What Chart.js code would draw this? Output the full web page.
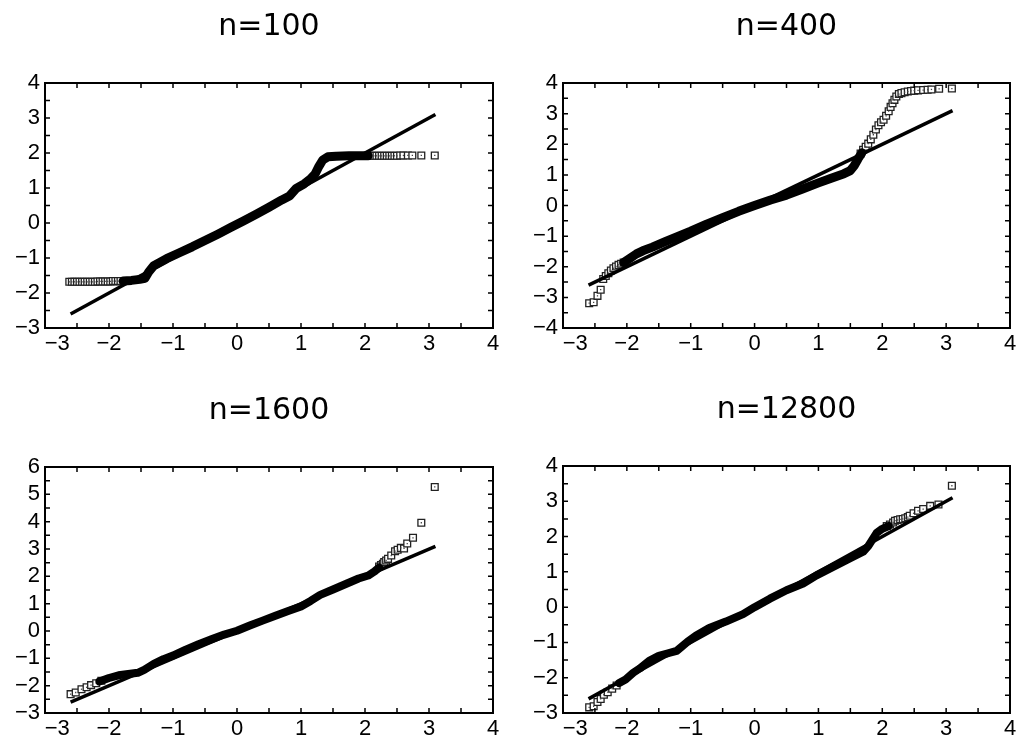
<!DOCTYPE html>
<html>
<head>
<meta charset="utf-8">
<script src="https://cdn.jsdelivr.net/npm/chart.js@4.4.1/dist/chart.umd.min.js"></script>
<style>
    html, body { margin: 0; padding: 0; background: #fff; }
    #wrap { position: relative; width: 1020px; height: 746px; }
    .cell { position: absolute; width: 510px; height: 373px; }
</style>
</head>
<body>
<div id="wrap">
    <div class="cell" style="left:0;top:0"><canvas id="c1" width="510" height="373"></canvas></div>
    <div class="cell" style="left:510px;top:0"><canvas id="c2" width="510" height="373"></canvas></div>
    <div class="cell" style="left:0;top:373px"><canvas id="c3" width="510" height="373"></canvas></div>
    <div class="cell" style="left:510px;top:373px"><canvas id="c4" width="510" height="373"></canvas></div>
</div>
<script>
// reference line y = x
const refX = [-2.6, 3.1];
const refY = [-2.6, 3.1];

// n=100
const n100BandX = [-1.78, -1.65, -1.52, -1.44, -1.38, -1.30, -1.10, -0.90, -0.70, -0.50, -0.30, -0.10, 0.10, 0.30, 0.50, 0.70, 0.82, 0.92, 1.05, 1.15, 1.22, 1.28, 1.34, 1.42, 1.55, 1.75, 1.95, 2.05];
const n100BandY = [-1.66, -1.64, -1.61, -1.58, -1.40, -1.22, -1.02, -0.85, -0.68, -0.50, -0.32, -0.13, 0.06, 0.25, 0.45, 0.66, 0.77, 0.98, 1.12, 1.26, 1.40, 1.62, 1.80, 1.89, 1.91, 1.92, 1.92, 1.92];
const n100MarkX = [-2.62, -2.58, -2.54, -2.50, -2.46, -2.42, -2.38, -2.34, -2.30, -2.26, -2.22, -2.18, -2.14, -2.10, -2.06, -2.02, -1.98, -1.94, -1.90, -1.86, -1.82,
    2.06, 2.10, 2.14, 2.18, 2.22, 2.26, 2.30, 2.34, 2.38, 2.42, 2.46, 2.50, 2.55, 2.60, 2.67, 2.74, 2.88, 3.09];
const n100MarkY = [-1.68, -1.68, -1.68, -1.68, -1.68, -1.68, -1.68, -1.68, -1.68, -1.68, -1.68, -1.67, -1.67, -1.67, -1.67, -1.67, -1.67, -1.66, -1.66, -1.66, -1.66,
    1.92, 1.92, 1.92, 1.92, 1.92, 1.92, 1.92, 1.92, 1.92, 1.92, 1.92, 1.92, 1.93, 1.93, 1.93, 1.93, 1.93, 1.93];

// n=400
const n400BandX = [-2.05, -1.95, -1.85, -1.75, -1.60, -1.40, -1.20, -1.00, -0.75, -0.50, -0.25, 0.00, 0.25, 0.50, 0.75, 1.00, 1.20, 1.40, 1.50, 1.56, 1.62, 1.68];
const n400BandY = [-1.86, -1.72, -1.58, -1.48, -1.36, -1.18, -1.01, -0.84, -0.61, -0.40, -0.19, 0.00, 0.18, 0.34, 0.54, 0.74, 0.89, 1.04, 1.14, 1.30, 1.52, 1.72];
const n400MarkX = [-2.59, -2.52, -2.46, -2.41, -2.37, -2.33, -2.29, -2.25, -2.21, -2.17, -2.13, -2.09, -2.05,
    1.66, 1.70, 1.74, 1.78, 1.82, 1.86, 1.90, 1.94, 1.98, 2.02, 2.06, 2.10, 2.13, 2.16, 2.19, 2.22, 2.26, 2.30, 2.35, 2.40, 2.45, 2.50, 2.56, 2.64, 2.71, 2.77, 2.89, 3.09];
const n400MarkY = [-3.19, -3.16, -2.95, -2.75, -2.40, -2.30, -2.21, -2.12, -2.05, -1.99, -1.94, -1.90, -1.86,
    1.70, 1.82, 1.92, 2.02, 2.16, 2.31, 2.48, 2.62, 2.72, 2.80, 2.93, 3.08, 3.22, 3.34, 3.45, 3.56, 3.64, 3.67, 3.70, 3.72, 3.74, 3.75, 3.76, 3.77, 3.78, 3.79, 3.81, 3.82];

// n=1600
const n1600BandX = [-2.15, -2.00, -1.85, -1.70, -1.55, -1.45, -1.30, -1.15, -1.00, -0.80, -0.60, -0.40, -0.20, 0.00, 0.20, 0.40, 0.60, 0.80, 1.00, 1.15, 1.30, 1.50, 1.70, 1.90, 2.05, 2.15, 2.22];
const n1600BandY = [-1.85, -1.72, -1.62, -1.57, -1.53, -1.42, -1.20, -1.03, -0.90, -0.68, -0.48, -0.30, -0.13, 0.01, 0.20, 0.38, 0.56, 0.73, 0.90, 1.10, 1.32, 1.52, 1.72, 1.92, 2.03, 2.18, 2.32];
const n1600MarkX = [-2.60, -2.52, -2.43, -2.35, -2.28, -2.20, -2.12,
    2.22, 2.25, 2.28, 2.30, 2.33, 2.36, 2.41, 2.47, 2.51, 2.56, 2.61, 2.66, 2.75, 2.88, 3.09];
const n1600MarkY = [-2.31, -2.25, -2.13, -2.06, -1.98, -1.91, -1.82,
    2.36, 2.41, 2.46, 2.52, 2.58, 2.64, 2.76, 2.92, 2.97, 3.04, 3.02, 3.20, 3.41, 3.96, 5.27];

// n=12800
const n12800BandX = [-2.12, -2.02, -1.90, -1.80, -1.65, -1.50, -1.34, -1.22, -1.14, -1.05, -0.92, -0.71, -0.45, -0.18, 0.00, 0.24, 0.50, 0.76, 0.97, 1.23, 1.49, 1.70, 1.78, 1.84, 1.91, 2.00, 2.10];
const n12800BandY = [-2.15, -2.05, -1.86, -1.74, -1.52, -1.38, -1.30, -1.24, -1.12, -0.98, -0.81, -0.59, -0.41, -0.20, 0.00, 0.24, 0.48, 0.67, 0.90, 1.14, 1.38, 1.57, 1.73, 1.90, 2.10, 2.22, 2.30];
const n12800MarkX = [-2.59, -2.52, -2.46, -2.41, -2.36, -2.30, -2.23, -2.16,
    2.07, 2.12, 2.17, 2.20, 2.24, 2.28, 2.32, 2.36, 2.40, 2.43, 2.49, 2.56, 2.64, 2.75, 2.88, 3.09];
const n12800MarkY = [-2.84, -2.81, -2.69, -2.60, -2.48, -2.41, -2.31, -2.22,
    2.30, 2.34, 2.40, 2.45, 2.47, 2.49, 2.50, 2.52, 2.55, 2.59, 2.66, 2.73, 2.78, 2.87, 2.91, 3.44];

const panels = [
    { id: 'c1', title: 'n=100', yMin: -3, yMax: 4, left: 45, top: 83, right: 17, xh: 45, band: 9,
        bandX: n100BandX, bandY: n100BandY, markX: n100MarkX, markY: n100MarkY },
    { id: 'c2', title: 'n=400', yMin: -4, yMax: 4, left: 53, top: 83, right: 10, xh: 45, band: 9,
        bandX: n400BandX, bandY: n400BandY, markX: n400MarkX, markY: n400MarkY },
    { id: 'c3', title: 'n=1600', yMin: -3, yMax: 6, left: 45, top: 94, right: 17, xh: 33, band: 8,
        bandX: n1600BandX, bandY: n1600BandY, markX: n1600MarkX, markY: n1600MarkY },
    { id: 'c4', title: 'n=12800', yMin: -3, yMax: 4, left: 53, top: 93, right: 10, xh: 33, band: 8,
        bandX: n12800BandX, bandY: n12800BandY, markX: n12800MarkX, markY: n12800MarkY },
];

const toPoints = (xs, ys) => xs.map((x, i) => ({ x: x, y: ys[i] }));
const fmt = v => (v < 0 ? '\u2212' + Math.abs(v) : String(v));
const tickFont = { family: '"Liberation Sans", Arial, sans-serif', size: 22 };

// box frame, inward ticks on all four sides, and the panel title
const framePlugin = {
    id: 'frame',
    afterDatasetsDraw(chart, args, opts) {
        const { ctx, chartArea: a, scales } = chart;
        const x = scales.x, y = scales.y;
        const len = 5;
        ctx.save();
        ctx.strokeStyle = '#000';
        ctx.lineWidth = 1.5;
        ctx.beginPath();
        for (let v = x.min + 0.5; v < x.max; v += 0.5) {
            const px = x.getPixelForValue(v);
            ctx.moveTo(px, a.top); ctx.lineTo(px, a.top + len);
            ctx.moveTo(px, a.bottom); ctx.lineTo(px, a.bottom - len);
        }
        for (let v = y.min + 0.5; v < y.max; v += 0.5) {
            const py = y.getPixelForValue(v);
            ctx.moveTo(a.left, py); ctx.lineTo(a.left + len, py);
            ctx.moveTo(a.right, py); ctx.lineTo(a.right - len, py);
        }
        ctx.stroke();
        ctx.lineWidth = 2;
        ctx.strokeRect(a.left, a.top, a.right - a.left, a.bottom - a.top);

        ctx.fillStyle = '#000';
        ctx.font = '30px "DejaVu Sans", sans-serif';
        ctx.textAlign = 'center';
        ctx.textBaseline = 'middle';
        ctx.fillText(opts.title, (a.left + a.right) / 2, a.top - 56);
        ctx.restore();
    }
};

panels.forEach(p => {
    const marks = toPoints(p.markX, p.markY);
    new Chart(document.getElementById(p.id), {
        type: 'scatter',
        data: {
            datasets: [
                {
                    // reference line, drawn on top
                    data: toPoints(refX, refY),
                    showLine: true,
                    borderColor: '#000',
                    borderWidth: 3.5,
                    pointRadius: 0,
                },
                {
                    // dense part of the sample, squares merge into a band
                    data: toPoints(p.bandX, p.bandY),
                    showLine: true,
                    borderColor: '#000',
                    borderWidth: p.band,
                    borderJoinStyle: 'round',
                    borderCapStyle: 'round',
                    pointRadius: 0,
                },
                {
                    // centre dot of each square marker
                    data: marks,
                    pointStyle: 'rect',
                    pointRadius: 0.9,
                    borderWidth: 0,
                    backgroundColor: '#444',
                },
                {
                    data: marks,
                    pointStyle: 'rect',
                    pointRadius: 4.8,
                    borderWidth: 1.3,
                    borderColor: '#222',
                    backgroundColor: '#fff',
                },
            ],
        },
        options: {
            responsive: false,
            animation: false,
            devicePixelRatio: 1,
            layout: { padding: { top: p.top, right: p.right, left: 0, bottom: 0 } },
            plugins: {
                legend: { display: false },
                tooltip: { enabled: false },
                frame: { title: p.title },
            },
            scales: {
                x: {
                    type: 'linear',
                    min: -3,
                    max: 4,
                    grid: { display: false, drawTicks: false },
                    border: { display: false },
                    ticks: {
                        stepSize: 1,
                        color: '#000',
                        font: tickFont,
                        padding: 3,
                        maxRotation: 0,
                        autoSkip: false,
                        // first label sits just right of the y axis
                        callback: (v, i) => (i === 0 ? '    ' : '') + fmt(v),
                    },
                    afterFit(s) { s.height = p.xh; },
                },
                y: {
                    type: 'linear',
                    min: p.yMin,
                    max: p.yMax,
                    grid: { display: false, drawTicks: false },
                    border: { display: false },
                    ticks: {
                        stepSize: 1,
                        color: '#000',
                        font: tickFont,
                        padding: 5,
                        autoSkip: false,
                        callback: v => fmt(v),
                    },
                    afterFit(s) { s.width = p.left; },
                },
            },
        },
        plugins: [framePlugin],
    });
});
</script>
</body>
</html>
